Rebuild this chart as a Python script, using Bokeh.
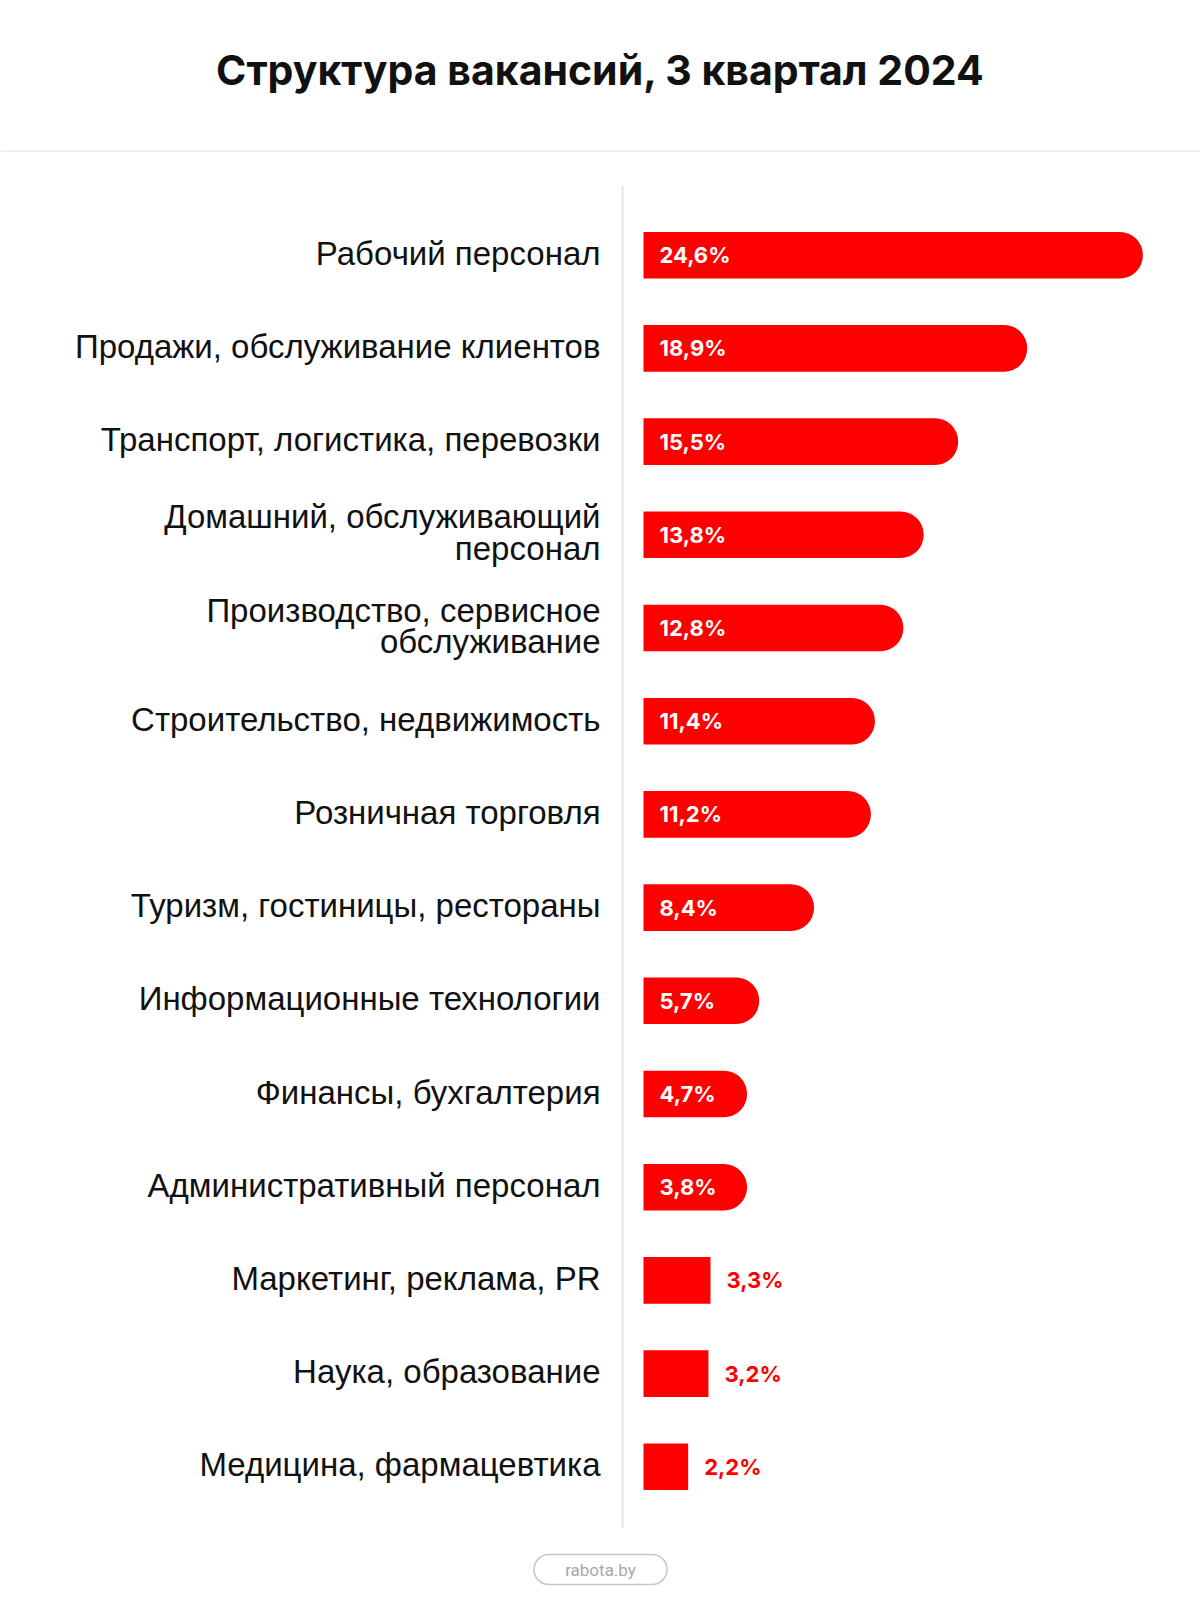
from bokeh.plotting import figure
from bokeh.models import Range1d, Span, ColumnDataSource
from bokeh.core.properties import value
from bokeh.embed import file_html
from bokeh.resources import INLINE

# ---------------- data ----------------
title_text = "Структура вакансий, 3 квартал 2024"
categories = [
    "Рабочий персонал",
    "Продажи, обслуживание клиентов",
    "Транспорт, логистика, перевозки",
    "Домашний, обслуживающий\nперсонал",
    "Производство, сервисное\nобслуживание",
    "Строительство, недвижимость",
    "Розничная торговля",
    "Туризм, гостиницы, рестораны",
    "Информационные технологии",
    "Финансы, бухгалтерия",
    "Административный персонал",
    "Маркетинг, реклама, PR",
    "Наука, образование",
    "Медицина, фармацевтика",
]
values = [24.6, 18.9, 15.5, 13.8, 12.8, 11.4, 11.2, 8.4, 5.7, 4.7, 3.8, 3.3, 3.2, 2.2]
value_labels = ["24,6%", "18,9%", "15,5%", "13,8%", "12,8%", "11,4%", "11,2%",
                "8,4%", "5,7%", "4,7%", "3,8%", "3,3%", "3,2%", "2,2%"]
source_text = "rabota.by"

# ---------------- layout constants ----------------
W, H = 1200, 1624
X0_PX = 643.0        # pixel of value 0
PX_PER_PCT = 20.3    # pixels per percent
ROW0_PX = 254.7      # pixel of first row centre
ROW_PX = 93.2        # pixels between rows
MIN_LABEL_BAR = 5.1  # minimum drawn length of a bar that carries its label inside
INSIDE_THRESHOLD = 3.5

def px_to_x(px):
    return (px - X0_PX) / PX_PER_PCT

def py_to_y(py):
    return (py - ROW0_PX) / ROW_PX

n = len(categories)
ys = list(range(n))
inside = [v >= INSIDE_THRESHOLD for v in values]

src_in = ColumnDataSource(dict(
    y=[y for y, f in zip(ys, inside) if f],
    v=[max(v, MIN_LABEL_BAR) for v, f in zip(values, inside) if f],
    lab=[l for l, f in zip(value_labels, inside) if f],
))
src_out = ColumnDataSource(dict(
    y=[y for y, f in zip(ys, inside) if not f],
    v=[v for v, f in zip(values, inside) if not f],
    lab=[l for l, f in zip(value_labels, inside) if not f],
))
src_cat = ColumnDataSource(dict(y=ys, cat=categories, zero=[0] * n))

p = figure(width=W, height=H, title=None,
           x_range=Range1d(px_to_x(0), px_to_x(W)),
           y_range=Range1d(py_to_y(H), py_to_y(0)),
           output_backend="svg", toolbar_location=None,
           x_axis_location=None, y_axis_location=None,
           min_border=0, outline_line_color=None,
           background_fill_color="white", border_fill_color="white")
p.grid.visible = False

RED = "#ff0000"
BAR_H = 0.5

# separator under title
p.add_layout(Span(location=py_to_y(150.5), dimension="width",
                  line_color="#dedede", line_width=1))

# vertical axis line
p.segment(x0=[px_to_x(622)], x1=[px_to_x(622)], y0=[-0.74], y1=[n - 1 + 0.65],
          line_color="#e3e3e3", line_width=2)

# bars
p.hbar(y="y", left=0, right="v", height=BAR_H, source=src_in,
       fill_color=RED, line_color=None, border_radius=(0, 23, 23, 0))
p.hbar(y="y", left=0, right="v", height=BAR_H, source=src_out,
       fill_color=RED, line_color=None)

# value labels
p.text(x=0, y="y", text="lab", source=src_in, x_offset=16,
       text_align="left", text_baseline="middle",
       text_font=value("Inter"), text_font_style="bold",
       text_font_size="22px", text_color="white")
p.text(x="v", y="y", text="lab", source=src_out, x_offset=16,
       text_align="left", text_baseline="middle",
       text_font=value("Inter"), text_font_style="bold",
       text_font_size="22px", text_color=RED)

# category labels
p.text(x="zero", y="y", text="cat", source=src_cat, x_offset=-43, y_offset=-2,
       text_align="right", text_baseline="middle",
       text_font=value("Liberation Sans"), text_font_size="33px",
       text_line_height=0.86, text_color="#111111")

# title
p.text(x=[px_to_x(600)], y=[py_to_y(69.5)], text=[title_text],
       text_align="center", text_baseline="middle",
       text_font=value("Inter"), text_font_style="bold",
       text_font_size="41px", text_color="#111111")

# source pill
p.rect(x=[px_to_x(600)], y=[py_to_y(1569)], width=133, height=30,
       width_units="screen", height_units="screen",
       fill_color=None, line_color="#c6c6c6", line_width=1.5, border_radius=15)
p.text(x=[px_to_x(600)], y=[py_to_y(1569)], text=[source_text],
       text_align="center", text_baseline="middle",
       text_font=value("Roboto"), text_font_size="17px", text_color="#a8a8a8")

open("out.html", "w").write(file_html(p, INLINE))
